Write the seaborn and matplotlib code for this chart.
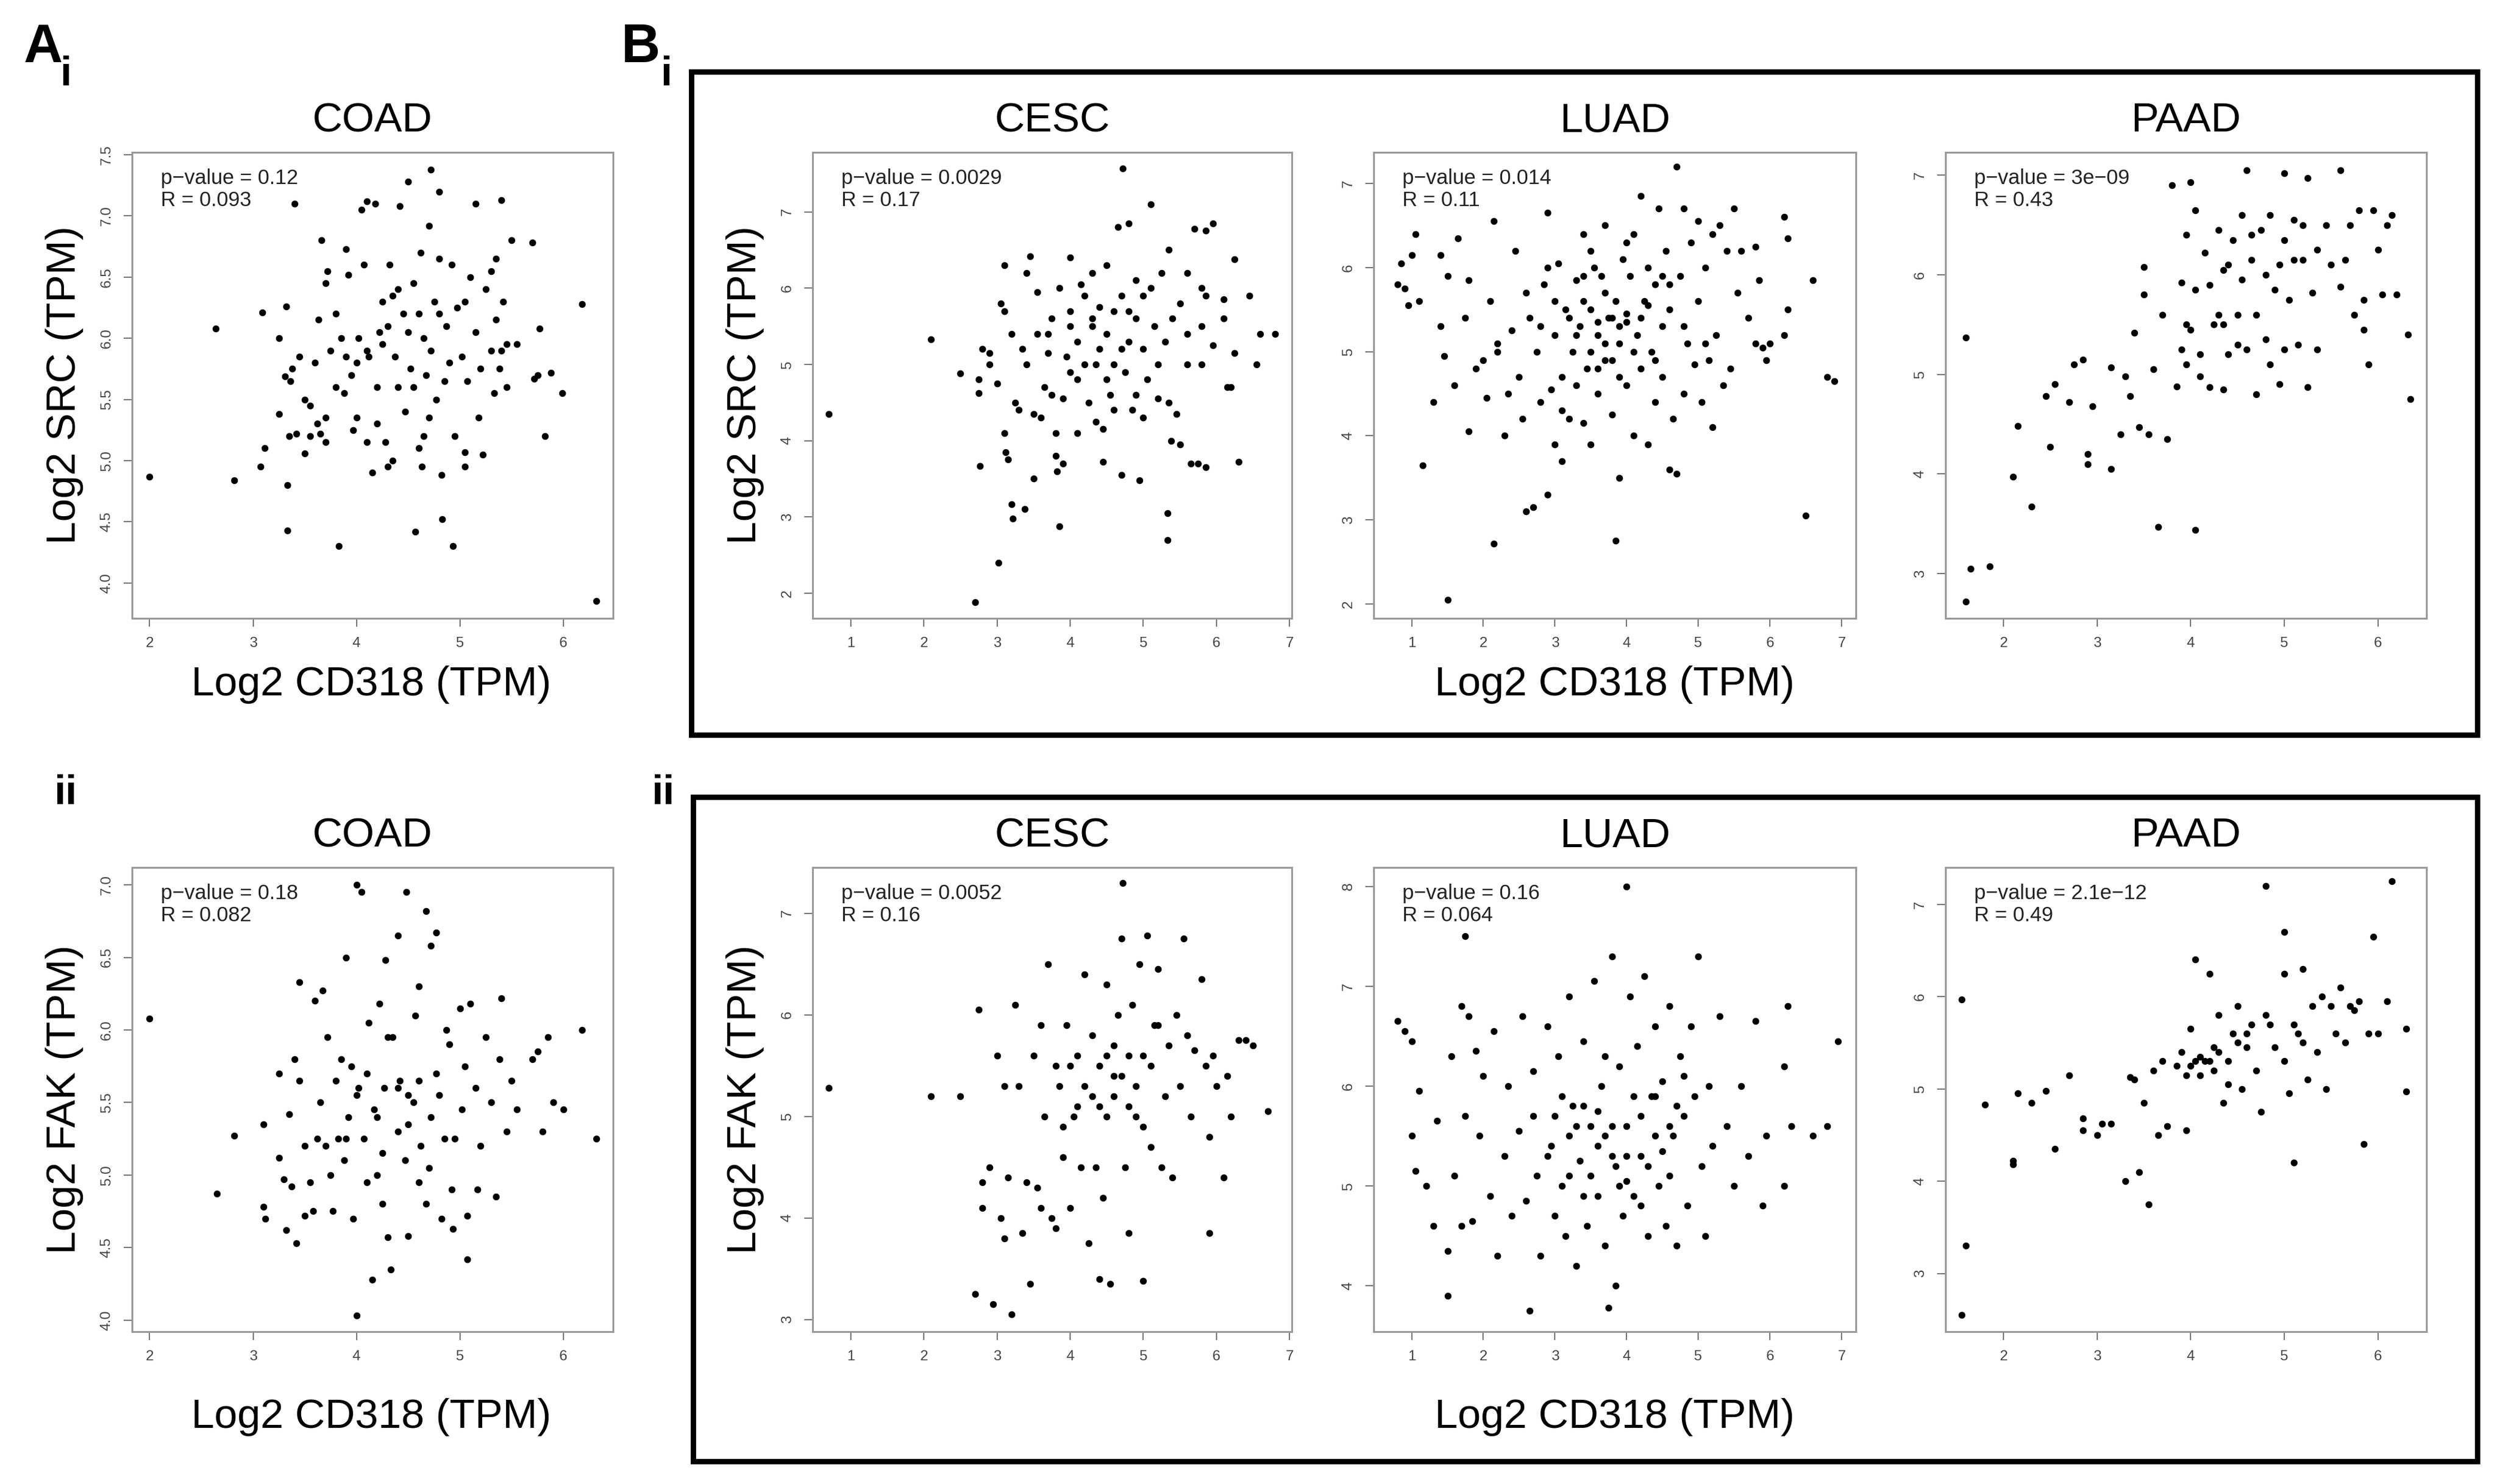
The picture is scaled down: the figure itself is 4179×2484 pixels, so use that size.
import matplotlib
matplotlib.use("Agg")
import matplotlib.pyplot as plt
import seaborn as sns
import pandas as pd
from matplotlib.patches import Rectangle

plt.rcParams["font.family"] = "Liberation Sans"

# ---------------- data ----------------
coad_src = [(2.0,4.87),(2.82,4.84),(2.64,6.08),(3.09,6.21),(3.07,4.95),(3.11,5.1),(3.25,6.0),(3.25,5.38),(3.32,6.26),(3.33,4.8),(3.33,4.43),(3.4,7.1),(3.31,5.69),(3.36,5.65),(3.38,5.75),(3.35,5.2),(3.42,5.22),(3.5,5.06),(3.55,5.2),(3.62,5.3),(3.65,5.22),(3.7,5.35),(3.45,5.85),(3.5,5.5),(3.55,5.45),(3.6,5.8),(3.63,6.15),(3.66,6.8),(3.7,6.45),(3.72,6.55),(3.75,5.9),(3.8,6.2),(3.85,6.0),(3.83,4.3),(3.88,5.55),(3.9,6.73),(3.92,6.52),(3.95,5.7),(3.97,5.25),(4.0,5.35),(4.02,6.0),(4.05,7.05),(4.07,6.6),(4.1,7.12),(4.12,5.85),(4.15,4.9),(4.18,7.1),(4.2,5.6),(4.22,6.05),(4.25,6.3),(4.28,5.15),(4.3,4.95),(4.32,6.6),(4.35,5.0),(4.37,5.85),(4.4,6.4),(4.42,7.08),(4.45,6.2),(4.47,5.4),(4.5,7.28),(4.52,5.75),(4.55,6.45),(4.57,4.42),(4.6,5.1),(4.62,6.7),(4.63,4.95),(4.65,6.0),(4.67,5.7),(4.7,6.92),(4.72,5.9),(4.75,6.3),(4.77,5.5),(4.8,6.65),(4.82,4.88),(4.85,5.65),(4.87,6.1),(4.72,7.38),(4.92,6.6),(4.95,5.2),(4.97,6.25),(4.8,7.2),(5.02,5.85),(5.05,4.95),(5.07,5.65),(5.1,6.5),(4.83,4.52),(5.15,6.05),(5.18,5.35),(5.2,5.75),(5.22,5.05),(5.25,6.4),(4.93,4.3),(5.3,5.9),(5.33,5.55),(5.35,6.15),(5.05,5.07),(5.42,6.3),(5.45,5.6),(5.15,7.1),(5.55,5.95),(5.5,6.8),(5.38,5.75),(5.35,6.65),(5.4,5.9),(5.4,7.13),(5.3,6.55),(5.45,5.95),(5.75,5.7),(5.77,6.08),(5.7,6.78),(5.72,5.67),(5.82,5.2),(5.88,5.72),(5.99,5.55),(6.18,6.28),(6.32,3.85),(4.1,5.9),(4.3,6.1),(4.5,6.05),(4.6,6.2),(4.7,5.35),(4.4,5.6),(4.2,5.3),(4.0,5.8),(3.9,5.85),(4.8,6.2),(4.9,5.8),(5.05,6.3),(4.35,6.35),(4.55,5.6),(4.65,5.2),(4.25,5.95),(3.8,5.6),(3.7,5.15),(4.1,5.15)]

cesc_src = [(0.7,4.35),(2.1,5.33),(2.5,4.88),(2.7,1.88),(2.75,4.8),(2.75,4.62),(2.77,3.67),(2.8,5.2),(2.9,5.15),(2.9,5.0),(3.0,4.75),(3.02,2.4),(3.05,5.8),(3.1,6.3),(3.1,5.7),(3.1,4.1),(3.12,3.85),(3.15,3.75),(3.2,5.4),(3.2,3.17),(3.22,2.98),(3.25,4.5),(3.3,4.4),(3.35,5.2),(3.38,3.1),(3.4,6.2),(3.4,5.0),(3.45,6.42),(3.5,3.5),(3.5,4.35),(3.55,5.4),(3.55,5.95),(3.6,4.3),(3.65,4.7),(3.7,5.15),(3.75,5.6),(3.75,4.6),(3.8,4.1),(3.8,3.8),(3.82,3.6),(3.85,2.88),(3.85,6.0),(3.9,4.55),(3.9,3.7),(3.95,5.1),(4.0,5.5),(4.0,6.4),(4.0,4.9),(4.1,4.1),(4.1,5.3),(4.15,6.05),(4.2,5.9),(4.25,4.5),(4.3,6.2),(4.3,5.5),(4.35,4.25),(4.35,5.0),(4.4,5.75),(4.45,4.15),(4.45,3.72),(4.5,5.4),(4.5,6.3),(4.55,4.6),(4.6,5.7),(4.6,4.4),(4.65,6.8),(4.7,3.55),(4.7,5.2),(4.72,7.57),(4.75,4.9),(4.8,6.85),(4.8,5.3),(4.85,4.4),(4.9,6.1),(4.9,5.6),(4.95,3.48),(5.0,4.3),(5.0,5.2),(5.05,4.8),(5.1,7.1),(5.1,6.0),(5.15,5.5),(5.2,4.55),(5.25,6.2),(5.3,5.3),(5.35,4.5),(5.35,6.5),(5.33,3.05),(5.33,2.7),(5.38,4.0),(5.45,4.35),(5.5,3.95),(5.5,5.8),(5.6,6.2),(5.6,5.4),(5.65,3.7),(5.7,6.78),(5.75,3.7),(5.8,5.0),(5.85,5.9),(5.85,3.65),(5.85,6.75),(5.95,5.25),(5.95,6.85),(5.8,6.0),(6.15,4.7),(6.1,5.6),(6.2,4.7),(6.1,5.85),(6.25,5.15),(6.25,6.38),(6.3,3.72),(6.45,5.9),(6.55,5.0),(6.6,5.4),(6.8,5.4),(4.2,5.0),(4.4,5.2),(4.6,5.0),(4.8,5.7),(5.0,5.9),(5.2,5.0),(4.0,5.7),(4.5,4.8),(4.7,5.9),(5.4,5.6),(5.6,5.0),(5.8,5.5),(4.9,4.6),(4.3,5.6),(3.7,5.4),(4.1,4.8)]

luad_src = [(0.8,5.8),(0.85,6.05),(0.9,5.75),(0.95,5.55),(1.0,6.15),(1.05,6.4),(1.1,5.6),(1.15,3.65),(1.3,4.4),(1.4,6.15),(1.4,5.3),(1.45,4.95),(1.5,2.05),(1.5,5.9),(1.6,4.6),(1.65,6.35),(1.75,5.4),(1.8,4.05),(1.8,5.85),(1.9,4.8),(2.0,4.9),(2.05,4.45),(2.1,5.6),(2.15,2.72),(2.15,6.55),(2.2,5.1),(2.3,4.0),(2.35,4.5),(2.4,5.25),(2.45,6.2),(2.5,4.7),(2.55,4.2),(2.6,3.1),(2.65,5.4),(2.7,3.15),(2.75,5.0),(2.8,4.4),(2.85,5.8),(2.9,6.65),(2.9,3.3),(2.95,4.55),(3.0,5.2),(3.0,3.9),(3.05,6.05),(3.1,4.7),(3.1,3.7),(3.15,5.5),(3.2,4.2),(3.25,5.0),(3.3,5.85),(3.3,4.6),(3.35,5.3),(3.4,6.4),(3.4,4.15),(3.45,4.8),(3.5,5.5),(3.5,3.9),(3.55,6.0),(3.6,4.5),(3.6,5.2),(3.65,5.9),(3.7,4.9),(3.7,6.5),(3.75,5.4),(3.8,4.25),(3.85,2.75),(3.85,5.6),(3.9,3.5),(3.9,5.1),(3.95,6.1),(4.0,4.6),(4.0,5.35),(4.05,5.9),(4.1,4.0),(4.1,6.4),(4.15,5.2),(4.2,6.85),(4.2,4.8),(4.25,5.6),(4.3,3.9),(4.3,6.0),(4.35,5.0),(4.4,4.4),(4.4,5.8),(4.45,6.7),(4.5,5.3),(4.5,4.7),(4.55,6.2),(4.6,3.6),(4.6,5.5),(4.65,4.2),(4.7,7.2),(4.7,3.55),(4.75,5.9),(4.8,4.5),(4.8,6.7),(4.85,5.1),(4.9,6.3),(4.95,4.85),(5.0,5.6),(5.0,6.55),(5.05,4.4),(5.1,6.0),(5.15,4.9),(5.2,6.4),(5.2,4.1),(5.25,5.2),(5.3,6.5),(5.35,4.6),(5.4,6.2),(5.45,4.8),(5.5,6.7),(5.55,5.7),(5.6,6.2),(5.7,5.4),(5.8,6.25),(5.8,5.1),(5.85,5.85),(5.9,5.05),(5.95,4.9),(6.0,5.1),(6.2,6.6),(6.2,5.2),(6.25,6.35),(6.25,5.5),(6.5,3.05),(6.6,5.85),(6.8,4.7),(6.9,4.65),(3.2,5.4),(3.4,5.6),(3.6,5.35),(3.8,5.4),(4.0,5.45),(3.5,5.0),(3.7,5.1),(3.9,5.3),(4.2,5.4),(3.3,5.2),(3.6,4.8),(3.8,4.9),(4.1,5.0),(3.0,5.6),(2.8,5.3),(3.4,5.9),(4.3,5.55),(4.6,5.8),(4.4,4.9),(3.1,4.3),(2.6,5.7),(2.2,5.0),(3.9,4.7),(4.8,5.3),(5.1,5.1),(3.5,6.2),(4.0,6.3),(2.9,6.0),(3.7,5.7),(4.5,5.9)]

paad_src = [(1.6,5.37),(1.6,2.72),(1.65,3.05),(1.85,3.07),(2.1,3.97),(2.15,4.48),(2.3,3.67),(2.45,4.78),(2.5,4.27),(2.55,4.9),(2.7,4.72),(2.75,5.1),(2.85,5.15),(2.9,4.2),(2.9,4.1),(2.95,4.68),(3.15,5.07),(3.15,4.05),(3.25,4.4),(3.3,4.98),(3.35,4.78),(3.4,5.42),(3.45,4.47),(3.5,6.08),(3.5,5.8),(3.55,4.4),(3.6,5.05),(3.65,3.47),(3.7,5.6),(3.75,4.35),(3.8,6.9),(3.85,4.88),(3.9,5.92),(3.9,5.25),(3.95,6.4),(3.95,5.1),(4.0,5.45),(4.0,6.93),(4.05,5.85),(4.05,6.65),(4.05,3.44),(4.1,5.2),(4.1,4.98),(4.15,6.22),(4.2,4.87),(4.25,5.5),(4.3,6.45),(4.3,5.6),(4.35,4.85),(4.35,6.05),(4.4,5.2),(4.45,6.35),(4.5,5.3),(4.55,5.95),(4.55,6.6),(4.6,7.05),(4.6,5.25),(4.65,6.15),(4.7,4.8),(4.7,5.6),(4.75,6.45),(4.8,5.35),(4.85,6.6),(4.85,5.1),(4.9,5.85),(4.95,6.1),(4.95,4.9),(5.0,7.02),(5.0,6.35),(5.0,5.25),(5.05,5.75),(5.1,6.55),(5.15,5.3),(5.2,6.15),(5.2,6.5),(5.25,6.97),(5.25,4.87),(5.3,5.82),(5.35,5.25),(5.35,6.25),(5.45,6.5),(5.5,6.1),(5.6,7.05),(5.6,5.88),(5.65,6.15),(5.7,6.5),(5.75,5.6),(5.8,6.65),(5.85,5.75),(5.85,5.45),(5.9,5.1),(5.95,6.65),(6.0,6.25),(6.05,5.8),(6.1,6.5),(6.15,6.6),(6.2,5.8),(6.32,5.4),(6.35,4.75),(4.4,6.1),(4.5,5.6),(4.2,5.9),(4.65,6.4),(4.8,6.0),(5.1,6.15),(4.35,5.5),(3.95,5.5)]

coad_fak = [(2.0,6.08),(2.65,4.87),(2.82,5.27),(3.1,4.78),(3.12,4.7),(3.1,5.35),(3.25,5.12),(3.25,5.7),(3.3,4.97),(3.32,4.62),(3.35,5.42),(3.37,4.92),(3.4,5.8),(3.42,4.53),(3.45,6.33),(3.45,5.65),(3.5,5.2),(3.5,4.72),(3.55,4.95),(3.58,4.75),(3.6,6.2),(3.62,5.25),(3.65,5.5),(3.67,6.27),(3.7,5.2),(3.72,5.95),(3.75,5.0),(3.77,4.75),(3.8,5.65),(3.82,5.25),(3.85,5.8),(3.88,5.1),(3.9,6.5),(3.92,5.4),(3.95,5.75),(3.97,4.7),(4.0,7.0),(4.0,4.03),(4.02,5.6),(4.05,6.95),(4.07,5.25),(4.1,4.95),(4.12,6.05),(4.15,4.28),(4.17,5.45),(4.2,5.0),(4.22,6.18),(4.25,4.8),(4.27,5.6),(4.3,4.57),(4.28,6.48),(4.35,5.95),(4.33,4.35),(4.4,5.3),(4.42,5.65),(4.4,6.65),(4.47,5.1),(4.5,4.58),(4.48,6.95),(4.55,5.5),(4.57,6.1),(4.6,4.95),(4.62,5.2),(4.6,6.3),(4.67,4.8),(4.67,6.82),(4.72,5.4),(4.72,6.58),(4.77,5.7),(4.77,6.67),(4.82,4.7),(4.85,5.25),(4.87,6.0),(4.9,5.9),(4.92,4.9),(4.95,5.25),(4.93,4.63),(5.0,6.15),(5.02,5.45),(5.05,5.75),(5.07,4.72),(5.1,6.18),(5.07,4.42),(5.15,5.6),(5.17,4.9),(5.2,5.2),(5.25,5.95),(5.3,5.5),(5.35,4.85),(5.38,5.8),(5.4,6.22),(5.45,5.3),(5.5,5.65),(5.55,5.45),(5.7,5.8),(5.75,5.85),(5.8,5.3),(5.85,5.95),(5.9,5.5),(6.0,5.45),(6.18,6.0),(6.32,5.25),(4.2,5.4),(4.4,5.6),(4.5,5.55),(4.3,5.95),(4.1,5.7),(4.6,5.65),(4.0,5.55),(3.9,5.25),(4.8,5.55),(4.5,5.35),(4.7,5.05),(4.25,5.15)]

cesc_fak = [(0.7,5.28),(2.1,5.2),(2.5,5.2),(2.7,3.25),(2.75,6.05),(2.8,4.35),(2.8,4.1),(2.9,4.5),(2.95,3.15),(3.0,5.6),(3.05,4.0),(3.1,5.3),(3.1,3.8),(3.15,4.4),(3.2,3.05),(3.25,6.1),(3.3,5.3),(3.35,3.85),(3.4,4.35),(3.45,3.35),(3.5,5.6),(3.55,4.3),(3.6,4.1),(3.65,5.0),(3.7,6.5),(3.75,4.0),(3.8,3.9),(3.85,5.3),(3.9,4.6),(3.95,5.9),(4.0,4.1),(4.05,5.0),(4.1,5.6),(4.15,4.5),(4.2,6.4),(4.25,3.75),(4.3,5.2),(4.35,4.5),(4.4,3.4),(4.45,4.2),(4.5,6.3),(4.55,3.35),(4.6,5.4),(4.65,6.0),(4.7,6.75),(4.72,7.3),(4.75,4.5),(4.8,3.85),(4.85,6.1),(4.9,5.0),(4.95,6.5),(5.0,3.38),(5.0,5.6),(5.05,6.78),(5.1,4.7),(5.15,5.9),(5.2,6.45),(5.25,4.5),(5.3,5.2),(5.35,5.7),(5.4,4.4),(5.45,6.0),(5.5,5.3),(5.55,6.75),(5.6,5.8),(5.65,5.0),(5.7,5.65),(5.8,6.35),(5.85,5.5),(5.9,3.85),(5.9,4.8),(5.95,5.6),(6.0,5.3),(6.1,4.4),(6.15,5.4),(6.2,5.0),(6.3,5.75),(6.4,5.75),(6.5,5.7),(6.7,5.05),(4.2,5.3),(4.4,5.5),(4.6,5.2),(4.8,5.6),(4.3,5.8),(4.5,5.0),(4.7,5.4),(4.9,5.3),(5.1,5.5),(4.0,5.5),(4.4,5.1),(4.6,5.7),(3.8,5.5),(5.2,5.9),(4.1,5.1),(4.8,5.1),(5.0,4.9),(3.6,5.9),(4.5,5.6),(3.9,4.9)]

luad_fak = [(0.8,6.65),(0.9,6.55),(1.0,6.45),(1.0,5.5),(1.05,5.15),(1.1,5.95),(1.2,5.0),(1.3,4.6),(1.35,5.65),(1.5,3.9),(1.5,4.35),(1.55,6.3),(1.6,5.1),(1.7,4.6),(1.7,6.8),(1.75,7.5),(1.75,5.7),(1.8,6.7),(1.85,4.65),(1.9,6.35),(1.95,5.5),(2.0,6.1),(2.1,4.9),(2.15,6.55),(2.2,4.3),(2.3,5.3),(2.35,6.0),(2.4,4.7),(2.5,5.55),(2.55,6.7),(2.6,4.85),(2.65,3.75),(2.7,6.15),(2.75,5.1),(2.8,4.3),(2.9,6.6),(2.95,5.4),(3.0,4.7),(3.05,6.3),(3.1,5.0),(3.15,4.5),(3.2,6.9),(3.25,5.8),(3.3,4.2),(3.35,5.25),(3.4,6.45),(3.45,4.6),(3.5,5.6),(3.55,7.05),(3.6,4.9),(3.65,6.0),(3.7,4.4),(3.75,3.78),(3.8,7.3),(3.85,5.2),(3.85,4.0),(3.9,6.2),(3.95,4.7),(4.0,8.0),(4.0,5.6),(4.05,6.9),(4.1,4.9),(4.15,6.4),(4.2,5.3),(4.25,7.1),(4.3,4.5),(4.35,5.9),(4.4,6.6),(4.45,5.0),(4.5,6.05),(4.55,4.6),(4.6,6.8),(4.65,5.5),(4.7,4.4),(4.75,6.3),(4.8,5.7),(4.85,4.8),(4.9,6.6),(4.95,5.9),(5.0,7.3),(5.05,5.2),(5.1,4.5),(5.15,6.0),(5.2,5.4),(5.3,6.7),(5.4,5.6),(5.5,5.0),(5.6,6.0),(5.7,5.3),(5.8,6.65),(5.9,4.8),(5.95,5.5),(6.2,6.2),(6.2,5.0),(6.25,6.8),(6.3,5.6),(6.6,5.5),(6.8,5.6),(6.95,6.45),(3.0,5.7),(3.2,5.5),(3.4,5.8),(3.6,5.4),(3.8,5.6),(4.0,5.3),(4.2,5.7),(4.4,5.5),(4.6,5.6),(3.3,5.6),(3.5,5.1),(3.7,5.5),(3.9,5.0),(4.1,5.9),(4.3,5.2),(4.5,5.35),(4.7,5.8),(3.1,5.9),(2.9,5.3),(3.6,5.75),(3.8,5.3),(4.0,5.05),(4.4,5.9),(4.8,6.1),(3.2,5.1),(2.7,5.7),(4.2,4.8),(3.4,4.9),(3.7,6.3),(4.6,5.1)]

paad_fak = [(1.55,5.97),(1.55,2.55),(1.6,3.3),(1.8,4.83),(2.1,4.22),(2.1,4.18),(2.15,4.95),(2.3,4.85),(2.45,4.98),(2.55,4.35),(2.7,5.15),(2.85,4.55),(2.85,4.68),(3.0,4.5),(3.05,4.62),(3.15,4.62),(3.3,4.0),(3.35,5.13),(3.4,5.1),(3.45,4.1),(3.5,4.85),(3.55,3.75),(3.6,5.2),(3.65,4.5),(3.7,5.3),(3.75,4.6),(3.85,5.25),(3.9,5.4),(3.95,4.55),(4.0,5.65),(4.05,6.4),(4.1,5.15),(4.15,5.3),(4.2,6.25),(4.25,5.45),(4.3,5.8),(4.35,4.85),(4.4,5.3),(4.45,5.6),(4.5,5.9),(4.55,5.0),(4.6,5.6),(4.7,5.2),(4.75,4.75),(4.8,7.2),(4.85,5.7),(4.9,5.45),(5.0,6.7),(5.0,5.3),(5.0,6.25),(5.05,4.95),(5.1,4.2),(5.15,5.6),(5.2,6.3),(5.25,5.1),(5.3,5.9),(5.35,5.4),(5.4,6.0),(5.45,5.0),(5.5,5.9),(5.55,5.6),(5.6,6.1),(5.65,5.5),(5.7,5.9),(5.75,5.85),(5.8,5.95),(5.85,4.4),(5.9,5.6),(5.95,6.65),(6.0,5.6),(6.1,5.95),(6.15,7.25),(6.3,5.65),(6.3,4.97),(4.0,5.25),(4.05,5.3),(4.1,5.35),(4.2,5.3),(4.25,5.2),(4.3,5.4),(4.5,5.5),(4.6,5.45),(4.65,5.7),(4.8,5.8),(5.1,5.7),(5.2,5.5),(4.4,5.05),(3.95,5.15)]

titles = ["COAD", "CESC", "LUAD", "PAAD"]
src_stats = ["p\u2212value = 0.12\nR = 0.093", "p\u2212value = 0.0029\nR = 0.17",
             "p\u2212value = 0.014\nR = 0.11", "p\u2212value = 3e\u221209\nR = 0.43"]
fak_stats = ["p\u2212value = 0.18\nR = 0.082", "p\u2212value = 0.0052\nR = 0.16",
             "p\u2212value = 0.16\nR = 0.064", "p\u2212value = 2.1e\u221212\nR = 0.49"]
src_xticks = [[2,3,4,5,6],[1,2,3,4,5,6,7],[1,2,3,4,5,6,7],[2,3,4,5,6]]
src_yticks = [[4.0,4.5,5.0,5.5,6.0,6.5,7.0,7.5],[2,3,4,5,6,7],[2,3,4,5,6,7],[3,4,5,6,7]]
fak_yticks = [[4.0,4.5,5.0,5.5,6.0,6.5,7.0],[3,4,5,6,7],[4,5,6,7,8],[3,4,5,6,7]]

# ---------------- layout ----------------
W, H = 4179, 2484
fig = plt.figure(figsize=(W/250, H/250), dpi=250)

cols = [(221,1026),(1360,2162),(2299,3106),(3256,4061)]
rows = [(255,1035),(1452,2229)]
xlims = [(1.83,6.48),(0.48,7.03),(0.47,7.2),(1.38,6.52)]
ylims_src = [(3.71,7.52),(1.67,7.78),(1.83,7.37),(2.55,7.23)]
ylims_fak = [(3.92,7.12),(2.88,7.45),(3.54,8.19),(2.37,7.40)]

def fmt(v):
    return ("%.1f" % v) if isinstance(v, float) else str(v)

def panel(r, c, pts, ylim, yt, stats, ylabel):
    x0, x1 = cols[c]; y0, y1 = rows[r]
    ax = fig.add_axes([x0/W, 1-y1/H, (x1-x0)/W, (y1-y0)/H])
    df = pd.DataFrame(pts, columns=["x", "y"])
    sns.scatterplot(data=df, x="x", y="y", ax=ax, color="black", s=11,
                    linewidth=0, legend=False)
    ax.set_xlim(*xlims[c]); ax.set_ylim(*ylim)
    ax.set_xticks(src_xticks[c]); ax.set_yticks(yt)
    ax.set_xticklabels([str(v) for v in src_xticks[c]], fontsize=7, color="#444444")
    ax.set_yticklabels([fmt(v) for v in yt], fontsize=7, color="#444444",
                       rotation=90, va="center")
    ax.tick_params(length=4, width=0.6, color="#777777", pad=5)
    for s in ax.spines.values():
        s.set_color("#999999"); s.set_linewidth(0.9)
    ax.set_xlabel(""); ax.set_ylabel("")
    ax.set_title(titles[c], fontsize=20, pad=10)
    ax.text(0.06, 0.965, stats, transform=ax.transAxes, va="top", ha="left",
            fontsize=10, linespacing=1.15, color="#222222")
    if ylabel:
        ax.set_ylabel(ylabel, fontsize=20, labelpad=8)
    return ax

sets_src = [coad_src, cesc_src, luad_src, paad_src]
sets_fak = [coad_fak, cesc_fak, luad_fak, paad_fak]
for c in range(4):
    panel(0, c, sets_src[c], ylims_src[c], src_yticks[c], src_stats[c],
          "Log2 SRC (TPM)" if c in (0, 1) else None)
    panel(1, c, sets_fak[c], ylims_fak[c], fak_yticks[c], fak_stats[c],
          "Log2 FAK (TPM)" if c in (0, 1) else None)

# x labels
for yy in (1146, 2372):
    fig.text(621/W, 1-yy/H, "Log2 CD318 (TPM)", ha="center", va="center", fontsize=20)
    fig.text(2702/W, 1-yy/H, "Log2 CD318 (TPM)", ha="center", va="center", fontsize=20)

# frames around B panels
for (l, t, r, b) in [(1157, 120, 4146, 1230), (1160, 1334, 4146, 2446)]:
    fig.add_artist(Rectangle((l/W, 1-b/H), (r-l)/W, (b-t)/H, transform=fig.transFigure,
                             fill=False, edgecolor="black", linewidth=2.6))

# panel letters
fig.text(40/W, 1-80/H, "A", fontsize=26, fontweight="bold", ha="left", va="center")
fig.text(100/W, 1-125/H, "i", fontsize=20, fontweight="bold", ha="left", va="center")
fig.text(1040/W, 1-80/H, "B", fontsize=26, fontweight="bold", ha="left", va="center")
fig.text(1105/W, 1-125/H, "i", fontsize=20, fontweight="bold", ha="left", va="center")
fig.text(90/W, 1-1328/H, "ii", fontsize=20, fontweight="bold", ha="left", va="center")
fig.text(1090/W, 1-1328/H, "ii", fontsize=20, fontweight="bold", ha="left", va="center")

fig.savefig("out.png", dpi=250, facecolor="white")
